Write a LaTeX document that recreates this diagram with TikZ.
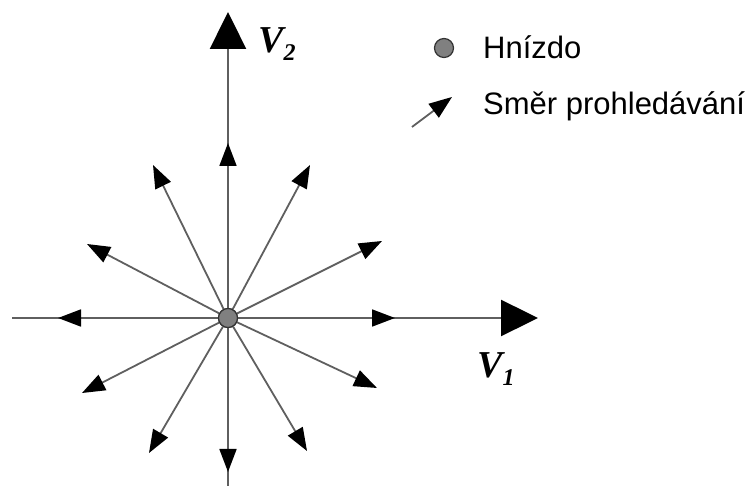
\documentclass[tikz,border=0pt]{standalone}
\usepackage{fontspec}
\setmainfont{Liberation Serif}
\setsansfont{Liberation Sans}
\usetikzlibrary{arrows.meta,positioning}
\definecolor{LineGray}{RGB}{95,95,95}
\definecolor{NestGray}{RGB}{128,128,128}

\begin{document}
\begin{tikzpicture}[x=1pt,y=-1pt,>=Triangle,
  axis/.style={line width=2.4pt,LineGray,
    -{Triangle[length=37pt,width=36pt,color=black]}},
  searcharrow/.style={line width=1.8pt,LineGray,
    -{Triangle[length=23pt,width=17pt,color=black]}},
  nestdot/.style={circle,draw=black!80,line width=1.2pt,fill=NestGray,
    inner sep=0pt,minimum size=19pt},
  legend/.style={font=\sffamily\fontsize{31}{31}\selectfont,anchor=base west,inner sep=0pt},
  axislabel/.style={font=\bfseries\itshape\fontsize{38}{38}\selectfont,anchor=base west,inner sep=0pt}]
      \useasboundingbox (0,0) rectangle (753,486);
      \coordinate (west) at (12,318);
      \coordinate (east) at (538,318);
      \coordinate (south) at (228,486);
      \coordinate (north) at (228,12);
      \draw[axis] (west)--(east);
      \draw[axis] (south)--(north);
      \node[nestdot] (nest) at (228,318) {};
      \foreach \tx/\ty [count=\i] in {228/143,153/165,310/165,87/244,382/241,
        58/318,395/318,82/393,377/388,149/453,307/451,228/472}
        \coordinate (d\i) at (\tx,\ty);
      \foreach \i in {1,...,12}
        \draw[searcharrow] (nest)--(d\i);
      \node[nestdot] at (228,318) {};
      \node[axislabel] (v2) at (258,53) {V\raisebox{-8pt}{\fontsize{24}{24}\selectfont 2}};
      \node[axislabel] (v1) at (477,378) {V\raisebox{-8pt}{\fontsize{24}{24}\selectfont 1}};
      \node[nestdot] (legnest) at (444,48) {};
      \node[legend] (hnizdo) at (483,59) {Hnízdo};
      \coordinate (legfrom) at (412,127);
      \coordinate (legto) at (452,97);
      \draw[searcharrow] (legfrom)--(legto);
      \node[legend] (smer) at (483,115) {Směr prohledávání};
    \end{tikzpicture}
\end{document}
